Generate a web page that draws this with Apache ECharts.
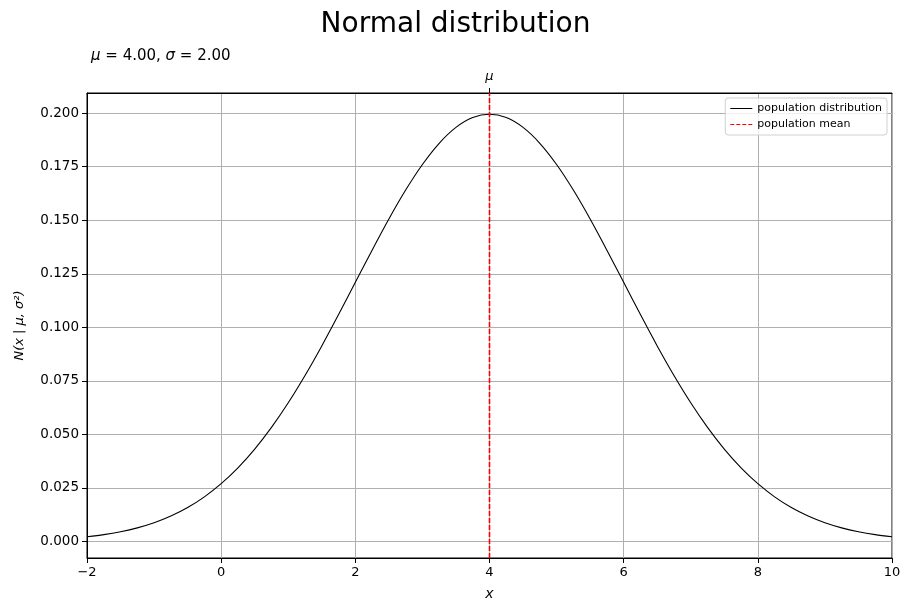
<!DOCTYPE html>
<html>
<head>
<meta charset="utf-8">
<script src="https://cdn.jsdelivr.net/npm/echarts@6/dist/echarts.min.js"></script>
<style>html,body{margin:0;padding:0;background:#fff;}#c{width:911px;height:611px;}</style>
</head>
<body>
<div id="c"></div>
<script>
// x positions
var xValues = [-2,-1.75,-1.5,-1.25,-1,-0.75,-0.5,-0.25,0,0.25,0.5,0.75,1,1.25,1.5,1.75,2,2.25,2.5,2.75,3,3.25,3.5,3.75,4,
  4.25,4.5,4.75,5,5.25,5.5,5.75,6,6.25,6.5,6.75,7,7.25,7.5,7.75,8,8.25,8.5,8.75,9,9.25,9.5,9.75,10];
// density values
var densityValues = [0.00222,0.00320,0.00455,0.00636,0.00876,0.01188,0.01587,0.02086,0.02700,0.03439,0.04314,0.05327,0.06476,0.07751,0.09132,0.10594,0.12099,0.13603,0.15057,0.16408,0.17603,0.18593,0.19333,0.19792,0.19947,
  0.19792,0.19333,0.18593,0.17603,0.16408,0.15057,0.13603,0.12099,0.10594,0.09132,0.07751,0.06476,0.05327,0.04314,0.03439,0.02700,0.02086,0.01587,0.01188,0.00876,0.00636,0.00455,0.00320,0.00222];
var meanValue = 4;
var yTicks = [0,0.025,0.05,0.075,0.1,0.125,0.15,0.175,0.2];
var yMin = -0.0077, yMax = 0.2094;

var curve = xValues.map(function(x,i){return [x, densityValues[i]];});
var FONT = 'DejaVu Sans';
var solidIcon = 'path://M0,0h0.01v0.01h-0.01z M0,4.4h22v1.2h-22z M21.99,9.99h0.01v0.01h-0.01z';
var dashIcon = 'path://M0,0h0.01v0.01h-0.01z M0,4.4h4v1.2h-4z M6,4.4h4v1.2h-4z M12,4.4h4v1.2h-4z M18,4.4h4v1.2h-4z M21.99,9.99h0.01v0.01h-0.01z';
var chart = echarts.init(document.getElementById('c'), null, {renderer:'canvas'});
chart.setOption({
  backgroundColor:'#fff',
  animation:false,
  textStyle:{fontFamily:FONT},
  title:[
    {text:'Normal distribution', left:'center', top:6, textStyle:{fontFamily:FONT, fontSize:28, fontWeight:'normal', color:'#000'}},
    {text:'{i|μ} = 4.00, {i|σ} = 2.00', left:86, top:44,
     textStyle:{fontFamily:FONT, fontSize:15, fontWeight:'normal', color:'#000',
       rich:{i:{fontFamily:FONT, fontSize:15, fontStyle:'italic', color:'#000'}}}}
  ],
  legend:{
    orient:'vertical', right:24, top:98,
    backgroundColor:'rgba(255,255,255,0.8)', borderColor:'#d0d0d0', borderWidth:1, borderRadius:3,
    padding:[5,5,5,5], itemGap:5, itemWidth:22, itemHeight:10,
    textStyle:{fontFamily:FONT, fontSize:11, color:'#000'},
    data:[{name:'population distribution', icon:solidIcon, itemStyle:{color:'#000'}},
          {name:'population mean', icon:dashIcon, itemStyle:{color:'#ff0000'}}]
  },
  grid:{left:87, right:19, top:93, bottom:53, show:true, borderColor:'#000', borderWidth:1, backgroundColor:'transparent'},
  xAxis:[
    {type:'value', min:-2, max:10, interval:2, position:'bottom',
     name:'x', nameLocation:'middle', nameGap:29,
     nameTextStyle:{fontFamily:FONT, fontSize:14, fontStyle:'italic', color:'#000'},
     axisLine:{show:true, onZero:false, lineStyle:{color:'#000', width:1}},
     axisTick:{show:true, inside:false, length:5, lineStyle:{color:'#000'}},
     axisLabel:{fontFamily:FONT, fontSize:13, color:'#000', margin:8,
       formatter:function(v){return String(v).replace('-', '\u2212');}},
     splitLine:{show:true, lineStyle:{color:'#b0b0b0', width:1}}},
    {type:'value', min:-2, max:10, position:'top',
     axisLine:{show:true, onZero:false, lineStyle:{color:'#000', width:1}},
     axisTick:{show:true, length:5, customValues:[meanValue], lineStyle:{color:'#000'}},
     axisLabel:{show:true, customValues:[meanValue], formatter:function(){return 'μ';}, fontFamily:FONT, fontSize:13, fontStyle:'italic', color:'#000', margin:10},
     splitLine:{show:false}}
  ],
  yAxis:[
    {type:'value', min:yMin, max:yMax,
     name:'N(x | μ, σ²)', nameLocation:'middle', nameGap:61, nameRotate:90,
     nameTextStyle:{fontFamily:FONT, fontSize:13, fontStyle:'italic', color:'#000'},
     axisLine:{show:true, onZero:false, lineStyle:{color:'#000', width:1}},
     axisTick:{show:true, length:5, customValues:yTicks, lineStyle:{color:'#000'}},
     axisLabel:{customValues:yTicks, fontFamily:FONT, fontSize:13.5, color:'#000', margin:8,
       formatter:function(v){return v.toFixed(3);}},
     splitLine:{show:true, lineStyle:{color:'#b0b0b0', width:1}}}
  ],
  series:[
    {name:'population distribution', type:'line', data:curve, showSymbol:false, symbol:'none', smooth:0.3,
     lineStyle:{color:'#000', width:1.1}, itemStyle:{color:'#000'}, z:3},
    {name:'population mean', type:'line', data:[[meanValue,yMin],[meanValue,yMax]], showSymbol:false, symbol:'none',
     lineStyle:{color:'#ff0000', width:1.6, type:[5,2]}, itemStyle:{color:'#ff0000'}, z:10}
  ]
});
</script>
</body>
</html>
